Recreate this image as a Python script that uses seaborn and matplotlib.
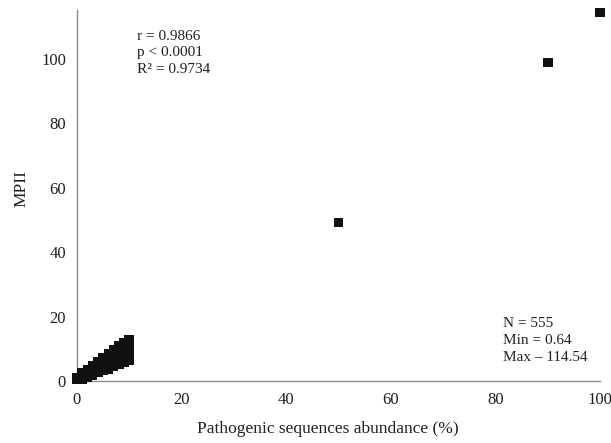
import matplotlib
matplotlib.use("Agg")
import matplotlib.pyplot as plt
import seaborn as sns
import pandas as pd

# Data (x = abundance %, y = MPII)
abundance = [0, 0,
             1, 1, 1,
             2, 2, 2,
             3, 3, 3,
             4, 4, 4,
             5, 5, 5, 5,
             6, 6, 6, 6,
             7, 7, 7, 7,
             8, 8, 8, 8,
             9, 9, 9, 9,
             10, 10, 10, 10,
             50, 90, 100]
mpii = [0.64, 1.0,
        0.64, 1.6, 2.6,
        1.3, 2.4, 3.6,
        1.9, 3.3, 4.8,
        2.6, 4.3, 6.0,
        3.2, 4.6, 6.0, 7.3,
        3.8, 5.4, 7.0, 8.5,
        4.5, 6.2, 8.0, 9.8,
        5.1, 7.0, 9.0, 11.0,
        5.8, 7.8, 10.0, 12.0,
        6.4, 8.6, 10.8, 12.9,
        49.2, 99.0, 114.54]

stats_left = ["r = 0.9866", "p < 0.0001", "R\u00b2 = 0.9734"]
stats_right = ["N = 555", "Min = 0.64", "Max \u2013 114.54"]
x_ticks = [0, 20, 40, 60, 80, 100]
y_ticks = [0, 20, 40, 60, 80, 100]

df = pd.DataFrame({"abundance": abundance, "mpii": mpii})

sns.set_style("white")
plt.rcParams["font.family"] = ["Liberation Serif", "DejaVu Serif"]

txt = "#231f20"
fig = plt.figure(figsize=(6.11, 4.43), dpi=100)
ax = fig.add_axes([0.126, 0.140, 0.856, 0.837])

sns.scatterplot(data=df, x="abundance", y="mpii", marker="s", s=48,
                color="#111111", edgecolor="none", linewidth=0, ax=ax,
                clip_on=False, zorder=3)

ax.set_xlim(0, 100)
ax.set_ylim(0, 115.2)
ax.set_xticks(x_ticks)
ax.set_yticks(y_ticks)
ax.tick_params(axis="both", length=0, labelsize=12, colors=txt, pad=8)
ax.set_xlabel("Pathogenic sequences abundance (%)", fontsize=12.5, color=txt)
ax.set_ylabel("MPII", fontsize=12.5, color=txt)
ax.xaxis.set_label_coords(0.48, -0.108)
ax.yaxis.set_label_coords(-0.09, 0.52)

for s in ["top", "right"]:
    ax.spines[s].set_visible(False)
for s in ["left", "bottom"]:
    ax.spines[s].set_color("#8c8c8c")
    ax.spines[s].set_linewidth(1.0)

ax.text(0.115, 0.947, "\n".join(stats_left), transform=ax.transAxes,
        fontsize=11, color=txt, va="top", ha="left", linespacing=1.35)
ax.text(0.815, 0.172, "\n".join(stats_right), transform=ax.transAxes,
        fontsize=11, color=txt, va="top", ha="left", linespacing=1.4)

fig.savefig("out.png", dpi=100)
